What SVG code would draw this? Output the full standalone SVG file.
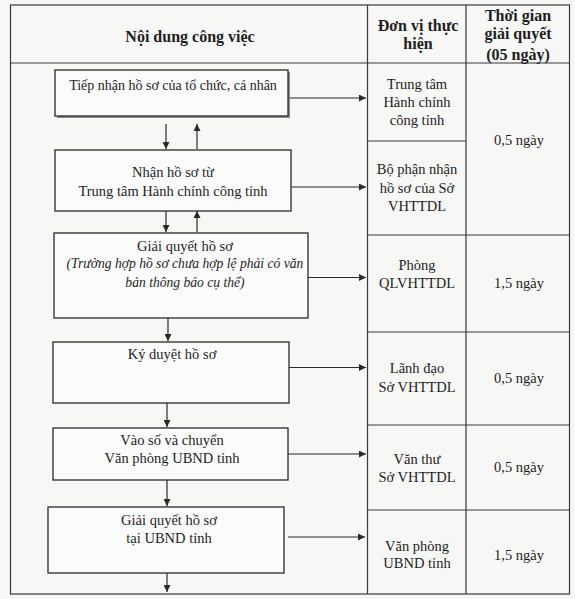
<svg xmlns="http://www.w3.org/2000/svg" width="575" height="599" viewBox="0 0 575 599">
<style>
text{font-family:"Liberation Serif","Times New Roman",serif;fill:#1e1e1e;text-anchor:middle;font-size:14.5px}
.h{font-weight:bold;font-size:16px}
.i{font-style:italic;font-size:13.6px}
.s{font-size:14px}
.grid{stroke:#3a3a3a;stroke-width:1.2;fill:none}
.box{stroke:#2a2a2a;stroke-width:1.3;fill:#fbfbfb}
.c{stroke:#2a2a2a;stroke-width:1.2;fill:none;marker-end:url(#ah)}
</style>
<defs>
<marker id="ah" viewBox="0 0 10 10" refX="10" refY="5" markerWidth="7" markerHeight="7" markerUnits="userSpaceOnUse" orient="auto">
<path d="M0,0 L10,5 L0,10 z" fill="#2a2a2a"/>
</marker>
</defs>
<rect x="0" y="0" width="575" height="599" fill="#f7f7f6"/>
<g id="table">
<rect class="grid" x="10.5" y="5" width="559" height="589"/>
<line class="grid" x1="10.5" y1="63" x2="569.5" y2="63"/>
<line class="grid" x1="367.5" y1="5" x2="367.5" y2="594"/>
<line class="grid" x1="466" y1="5" x2="466" y2="594"/>
<line class="grid" x1="367.5" y1="141" x2="466" y2="141"/>
<line class="grid" x1="367.5" y1="235" x2="569.5" y2="235"/>
<line class="grid" x1="367.5" y1="332" x2="569.5" y2="332"/>
<line class="grid" x1="367.5" y1="425" x2="569.5" y2="425"/>
<line class="grid" x1="367.5" y1="510" x2="569.5" y2="510"/>
<text class="h" x="190" y="42">Nội dung công việc</text>
<text class="h" x="418" y="31">Đơn vị thực</text>
<text class="h" x="418" y="49">hiện</text>
<text class="h" x="518" y="21">Thời gian</text>
<text class="h" x="518" y="39">giải quyết</text>
<text class="h" x="518" y="60">(05 ngày)</text>
</g>
<g id="unit1"><text x="417" y="89">Trung tâm</text><text x="417" y="107">Hành chính</text><text x="417" y="125">công tỉnh</text></g>
<g id="unit2"><text x="417" y="174">Bộ phận nhận</text><text x="417" y="193">hồ sơ của Sở</text><text x="417" y="211">VHTTDL</text></g>
<g id="unit3"><text x="417" y="270">Phòng</text><text x="417" y="288">QLVHTTDL</text></g>
<g id="unit4"><text x="417" y="373">Lãnh đạo</text><text x="417" y="392">Sở VHTTDL</text></g>
<g id="unit5"><text x="417" y="464">Văn thư</text><text x="417" y="482">Sở VHTTDL</text></g>
<g id="unit6"><text x="417" y="551">Văn phòng</text><text x="417" y="568">UBND tỉnh</text></g>
<g id="time1"><text x="519" y="145">0,5 ngày</text></g>
<g id="time2"><text x="519" y="288">1,5 ngày</text></g>
<g id="time3"><text x="519" y="383">0,5 ngày</text></g>
<g id="time4"><text x="519" y="472">0,5 ngày</text></g>
<g id="time5"><text x="519" y="560">1,5 ngày</text></g>
<g id="step1">
<rect x="57" y="72" width="233" height="46" fill="#8a8a8a"/>
<rect class="box" x="55" y="70" width="233" height="46"/>
<text class="s" x="173" y="90">Tiếp nhận hồ sơ của tổ chức, cá nhân</text>
</g>
<g id="step2">
<rect class="box" x="55" y="150" width="236" height="61"/>
<text x="173" y="177">Nhận hồ sơ từ</text>
<text x="173" y="196">Trung tâm Hành chính công tỉnh</text>
</g>
<g id="step3">
<rect class="box" x="54" y="233" width="254" height="85"/>
<text x="185" y="251">Giải quyết hồ sơ</text>
<text class="i" x="185" y="268">(Trường hợp hồ sơ chưa hợp lệ phải có văn</text>
<text class="i" x="185" y="287">bản thông báo cụ thể)</text>
</g>
<g id="step4">
<rect class="box" x="53" y="342" width="236" height="61"/>
<text x="172" y="359">Ký duyệt hồ sơ</text>
</g>
<g id="step5">
<rect class="box" x="53" y="428" width="235" height="52"/>
<text x="172" y="445">Vào số và chuyển</text>
<text x="172" y="463">Văn phòng UBND tỉnh</text>
</g>
<g id="step6">
<rect class="box" x="48" y="507" width="236" height="66"/>
<text x="169" y="525">Giải quyết hồ sơ</text>
<text x="169" y="543">tại UBND tỉnh</text>
</g>
<g id="connectors">
<line class="c" x1="290" y1="98" x2="366" y2="98"/>
<line class="c" x1="166" y1="124" x2="166" y2="149"/>
<line class="c" x1="197" y1="149" x2="197" y2="124"/>
<line class="c" x1="291" y1="187" x2="366" y2="187"/>
<line class="c" x1="166" y1="211" x2="166" y2="232"/>
<line class="c" x1="197" y1="232" x2="197" y2="211"/>
<line class="c" x1="308" y1="277.5" x2="366" y2="277.5"/>
<line class="c" x1="168" y1="318" x2="168" y2="341"/>
<line class="c" x1="289" y1="367.5" x2="366" y2="367.5"/>
<line class="c" x1="167" y1="403" x2="167" y2="427"/>
<line class="c" x1="288" y1="454" x2="366" y2="454"/>
<line class="c" x1="167" y1="480" x2="167" y2="506"/>
<line class="c" x1="288" y1="537" x2="365" y2="537"/>
<line class="c" x1="167" y1="573" x2="167" y2="592"/>
</g>
</svg>
